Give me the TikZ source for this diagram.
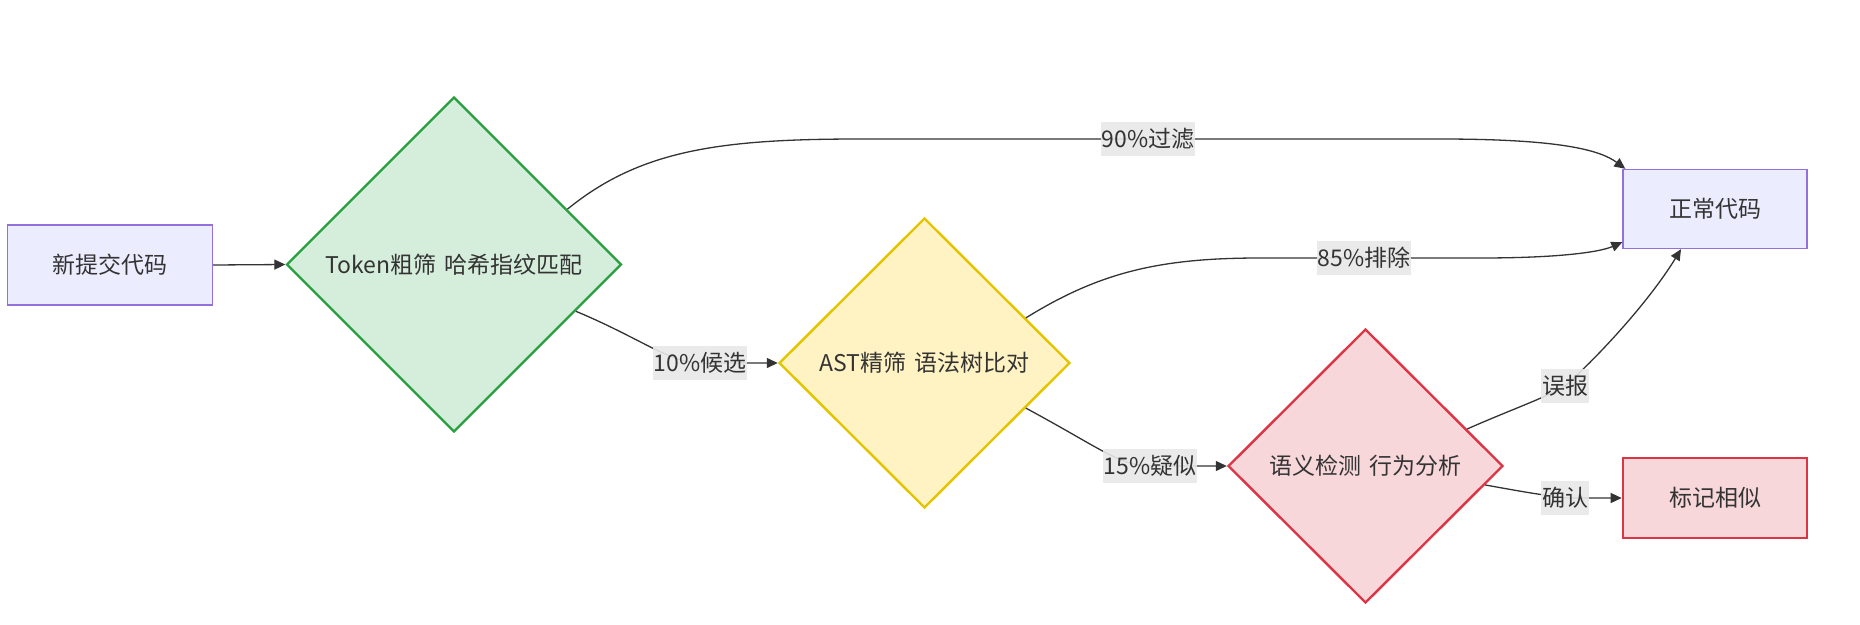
\documentclass[tikz,border=0pt]{standalone}
\usepackage{fontspec}
\setmainfont{Noto Sans CJK SC}
\usetikzlibrary{shapes.geometric,arrows.meta,calc}
\definecolor{boxfill}{HTML}{ECECFF}
\definecolor{boxline}{HTML}{9370DB}
\definecolor{grfill}{HTML}{D5EDDB}
\definecolor{grline}{HTML}{28A040}
\definecolor{yefill}{HTML}{FFF3C4}
\definecolor{yeline}{HTML}{E3C400}
\definecolor{refill}{HTML}{F7D7DA}
\definecolor{reline}{HTML}{DC3545}
\definecolor{lblbg}{HTML}{E8E8E8}
\definecolor{ink}{HTML}{333333}
\tikzset{
  base/.style={font=\fontsize{23}{27}\selectfont, text=ink, inner sep=0pt},
  procbox/.style={base, rectangle, fill=boxfill, draw=boxline, line width=1.4pt, minimum width=184pt, minimum height=79pt},
  simbox/.style={base, rectangle, fill=refill, draw=reline, line width=2.6pt, minimum width=184pt, minimum height=80pt},
  gdec/.style={base, diamond, fill=grfill, draw=grline, line width=2.4pt, minimum width=335pt, minimum height=335pt},
  ydec/.style={base, diamond, fill=yefill, draw=yeline, line width=2.4pt, minimum width=291pt, minimum height=290pt},
  rdec/.style={base, diamond, fill=refill, draw=reline, line width=2.4pt, minimum width=275pt, minimum height=274pt},
  lbl/.style={font=\fontsize{23}{27}\selectfont, text=ink, fill=lblbg, fill opacity=0.9, text opacity=1, inner xsep=1pt, inner ysep=0pt, minimum height=34pt},
  conn/.style={draw=ink, line width=1.3pt, -{Triangle[length=11pt,width=10pt]}}
}
\begin{document}
\begin{tikzpicture}[x=1pt,y=-1pt]
\useasboundingbox (0,0) rectangle (1860,624);
\node[procbox, minimum width=205pt, minimum height=80pt] (A) at (110,265) {新提交代码};
\node[gdec] (B) at (454,264.5) {Token粗筛\hspace{0.35em}哈希指纹匹配};
\node[ydec] (C) at (924.5,363) {AST精筛\hspace{0.35em}语法树比对};
\node[rdec] (D) at (1365.5,466) {语义检测\hspace{0.35em}行为分析};
\node[procbox] (E) at (1715,209) {正常代码};
\node[simbox] (F) at (1715,498) {标记相似};

\coordinate (l90) at (1148,139);
\coordinate (l10) at (700,363);
\coordinate (l85) at (1364,258);
\coordinate (l15) at (1150,466);
\coordinate (lwb) at (1565,386);
\coordinate (lqr) at (1565,498);

\draw[conn] (A.east) -- (B.west);
\draw[conn] (B.26) .. controls (640,150) and (720,139) .. (860,139) -- (l90) -- (1440,139) .. controls (1560,139) and (1600,150) .. ($(E.north west)+(3,0)$);
\draw[conn] (B.-21) .. controls (640,338) and (670,363) .. (l10) -- (C.west);
\draw[conn] (C.24) .. controls (1100,272) and (1160,258) .. (1260,258) -- (l85) -- (1480,258) .. controls (1560,258) and (1600,252) .. ($(E.south west)+(0,-7)$);
\draw[conn] (C.-24) .. controls (1100,448) and (1120,466) .. (l15) -- (D.west);
\draw[conn] (D.20) .. controls (1510,410) and (1545,398) .. (lwb) .. controls (1600,355) and (1650,300) .. ($(E.south)+(-34,0)$);
\draw[conn] (D.-9) .. controls (1530,493) .. (lqr) -- (F.west);

\node[lbl] (t90) at (l90) {90\%过滤};
\node[lbl] (t10) at (l10) {10\%候选};
\node[lbl] (t85) at (l85) {85\%排除};
\node[lbl] (t15) at (l15) {15\%疑似};
\node[lbl] (twb) at (lwb) {误报};
\node[lbl] (tqr) at (lqr) {确认};
\end{tikzpicture}
\end{document}
